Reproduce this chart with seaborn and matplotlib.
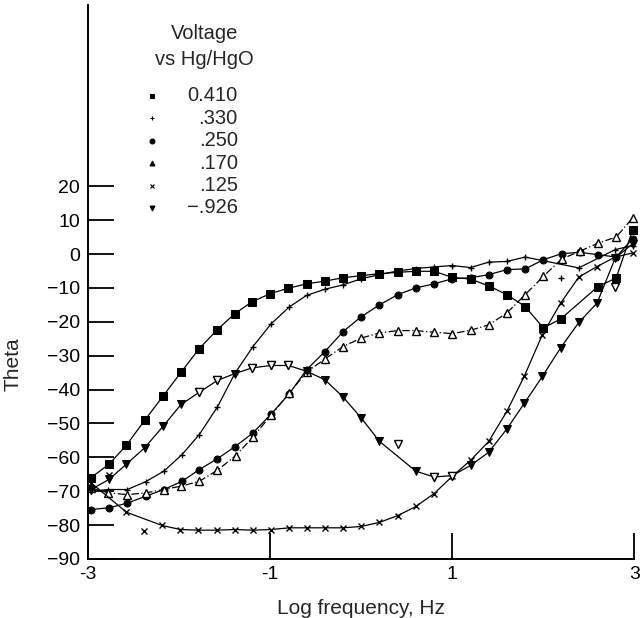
import numpy as np
import pandas as pd
import seaborn as sns
import matplotlib
matplotlib.use("Agg")
import matplotlib.pyplot as plt

# log frequency (Hz) and theta, one pair of lists per voltage
sq_x = [-2.97, -2.77, -2.58, -2.38, -2.18, -1.98, -1.78, -1.58, -1.39, -1.20, -1.00, -0.80, -0.60,
        -0.40, -0.20, 0.00, 0.20, 0.40, 0.60, 0.80, 1.00, 1.20, 1.40, 1.60, 1.80, 2.00, 2.19, 2.60,
        2.80, 2.98]
sq_y = [-66.0, -62.0, -56.4, -49.1, -42.0, -34.9, -27.9, -22.3, -17.6, -14.1, -11.7, -10.1, -8.8,
        -8.0, -7.0, -6.4, -5.8, -5.4, -5.1, -5.1, -6.9, -7.4, -9.4, -12.0, -15.5, -21.8, -19.2, -9.6,
        -7.1, 7.0]

plus_x = [-2.97, -2.78, -2.57, -2.37, -2.17, -1.97, -1.78, -1.58, -1.39, -1.19, -0.99, -0.79, -0.60,
          -0.40, -0.20, 0.00, 0.20, 0.40, 0.60, 0.80, 1.00, 1.20, 1.40, 1.60, 1.80, 2.39, 2.79, 2.98]
plus_y = [-70.0, -69.5, -69.5, -67.2, -64.1, -59.2, -53.3, -45.1, -35.3, -27.3, -20.6, -15.6, -12.2,
          -10.4, -9.1, -7.3, -6.1, -5.0, -4.3, -3.8, -3.4, -4.0, -2.4, -2.2, -0.9, -4.1, 1.3, 2.5]

circ_x = [-2.97, -2.77, -2.57, -2.37, -2.17, -1.97, -1.78, -1.58, -1.39, -1.19, -0.99, -0.79, -0.60,
          -0.40, -0.20, 0.00, 0.20, 0.40, 0.60, 0.80, 1.00, 1.20, 1.40, 1.60, 1.80, 2.00, 2.20, 2.40,
          2.60, 2.80, 2.98]
circ_y = [-75.4, -74.9, -73.5, -71.5, -69.5, -67.1, -63.6, -60.4, -56.9, -52.8, -47.2, -41.2, -34.1,
          -28.8, -22.9, -18.5, -15.0, -12.0, -10.0, -8.8, -7.3, -7.0, -6.1, -4.6, -4.4, -1.7, 0.1, 0.5,
          -0.2, -0.9, 4.5]

tri_x = [-2.97, -2.78, -2.57, -2.37, -2.17, -1.98, -1.78, -1.58, -1.38, -1.19, -0.99, -0.79, -0.60,
         -0.40, -0.20, 0.00, 0.20, 0.40, 0.60, 0.80, 1.00, 1.20, 1.40, 1.60, 1.80, 2.00, 2.20, 2.40,
         2.60, 2.80, 2.98]
tri_y = [-69.0, -70.5, -71.0, -70.5, -69.5, -68.5, -67.1, -63.8, -59.5, -54.0, -47.5, -41.0, -34.8,
         -31.0, -27.3, -24.8, -23.3, -22.6, -22.6, -23.1, -23.5, -22.5, -20.9, -17.4, -12.0, -6.6, -1.5,
         0.8, 3.2, 5.0, 10.6]

cross_x = [-2.97, -2.58, -2.19, -1.99, -1.79, -1.58, -1.39, -1.19, -0.99, -0.79, -0.60, -0.40, -0.20,
           0.00, 0.20, 0.40, 0.60, 0.80, 1.00, 1.20, 1.40, 1.60, 1.79, 1.99, 2.19, 2.39, 2.59, 2.79, 2.98]
cross_y = [-67.5, -76.2, -80.1, -81.3, -81.5, -81.5, -81.3, -81.5, -81.3, -80.8, -80.8, -80.8, -80.8,
           -80.4, -79.2, -77.2, -74.5, -70.7, -65.6, -60.9, -55.3, -46.4, -36.1, -23.8, -14.5, -6.8,
           -3.7, -0.9, 0.3]

dtri_x = [-2.97, -2.77, -2.58, -2.38, -2.18, -1.98, -1.78, -1.58, -1.39, -1.20, -0.99, -0.80, -0.60,
          -0.40, -0.20, 0.00, 0.20, 0.60, 0.80, 1.00, 1.20, 1.40, 1.60, 1.79, 1.99, 2.19, 2.39, 2.59,
          2.79, 2.98]
dtri_y = [-69.5, -66.5, -62.0, -57.2, -50.9, -44.4, -40.8, -37.3, -35.3, -33.6, -32.9, -32.9, -34.6,
          -37.1, -42.2, -48.4, -55.3, -64.1, -65.8, -65.4, -62.4, -58.5, -51.6, -44.1, -36.1, -27.7,
          -20.2, -14.5, -1.2, 3.0]
# points of the -.926 run drawn as open triangles in the original
dtri_open = [False, False, False, False, False, False, True, True, False, True, True, True, False,
             False, False, False, False, False, True, True, False, False, False, False, False, False,
             False, False, False, False]

# stray points that sit off the drawn curves
stray_sq = ([], [])
stray_plus = ([2.19], [-7.1])
stray_cross = ([-2.77, -2.39], [-65.1, -81.8])
stray_dtri = ([0.40, 2.79], [-56.0, -9.6])

labels = ["0.410", ".330", ".250", ".170", ".125", "\u2212.926"]
y_ticks = list(range(-90, 30, 10))
x_ticks = [-3, -1, 1, 3]
x_tick_labels = ["-3", "-1", "1", "3"]

sns.set_theme(style="ticks")
plt.rcParams["font.family"] = ["Liberation Sans", "DejaVu Sans"]
plt.rcParams["axes.unicode_minus"] = True

fig = plt.figure(figsize=(6.44, 6.18), dpi=100)
ax = fig.add_axes([0.137, 0.0955, 0.848, 0.8965])

series = [
    (sq_x, sq_y, stray_sq, dict(marker="s", markersize=5.5, markerfacecolor="black", linestyle="-")),
    (plus_x, plus_y, stray_plus, dict(marker="+", markersize=5, markeredgewidth=1.0, linestyle="-")),
    (circ_x, circ_y, ([], []), dict(marker="o", markersize=5, markerfacecolor="black", linestyle="-")),
    (tri_x, tri_y, ([], []), dict(marker="^", markersize=5.5, markerfacecolor="white",
                                  markeredgewidth=1.0, linestyle=(0, (6, 2, 1, 2)))),
    (cross_x, cross_y, stray_cross, dict(marker="x", markersize=5, markeredgewidth=1.0, linestyle="-")),
    (dtri_x, dtri_y, stray_dtri, dict(marker="v", markersize=5.5, markerfacecolor="black", linestyle="-")),
]

for xs, ys, stray, kw in series:
    sns.lineplot(x=xs, y=ys, ax=ax, color="black", linewidth=0.9, markeredgecolor="black",
                 sort=False, estimator=None, clip_on=False, **kw)
    if stray[0]:
        kw2 = {k: v for k, v in kw.items() if k != "linestyle"}
        if kw2["marker"] == "v":
            kw2["markerfacecolor"] = "white"
        ax.plot(stray[0], stray[1], linestyle="none", color="black", markeredgecolor="black", **kw2)

# open triangles on the -.926 run
ox = [x for x, o in zip(dtri_x, dtri_open) if o]
oy = [y for y, o in zip(dtri_y, dtri_open) if o]
sns.scatterplot(x=ox, y=oy, ax=ax, marker="v", s=34, color="white", edgecolor="black",
                linewidth=1.0, zorder=5)

# hand-made legend, labels right aligned like the original
ax.text(0.213, 0.949, "Voltage", transform=ax.transAxes, ha="center", va="center", fontsize=14.5)
ax.text(0.213, 0.901, "vs Hg/HgO", transform=ax.transAxes, ha="center", va="center", fontsize=14.5)
leg_markers = ["s", "+", "o", "^", "x", "v"]
for i, (lab, mk) in enumerate(zip(labels, leg_markers)):
    yy = 0.836 - i * 0.0405
    ax.plot([0.117], [yy], transform=ax.transAxes, marker=mk, markersize=3.5, color="black",
            markerfacecolor="black", markeredgewidth=0.8, linestyle="none")
    ax.text(0.274, yy, lab, transform=ax.transAxes, ha="right", va="center", fontsize=14.5)

ax.set_xlim(-3, 3)
ax.set_ylim(-90, 73.5)
ax.set_yticks(y_ticks)
ax.set_yticklabels([str(t).replace("-", "\u2212") for t in y_ticks])
ax.set_xticks(x_ticks)
ax.set_xticklabels(x_tick_labels)
ax.tick_params(axis="both", direction="in", length=19, width=1.3, colors="black", labelsize=14)
ax.tick_params(axis="y", pad=6)
ax.tick_params(axis="x", pad=5)
for s in ["top", "right"]:
    ax.spines[s].set_visible(False)
for s in ["left", "bottom"]:
    ax.spines[s].set_linewidth(1.4)
    ax.spines[s].set_color("black")
ax.set_xlabel("Log frequency, Hz", fontsize=15)
ax.set_ylabel("Theta", fontsize=15)
ax.xaxis.set_label_coords(0.5, -0.072)
ax.yaxis.set_label_coords(-0.12, 0.352)
ax.grid(False)

fig.savefig("out.png", dpi=100, facecolor="white")
